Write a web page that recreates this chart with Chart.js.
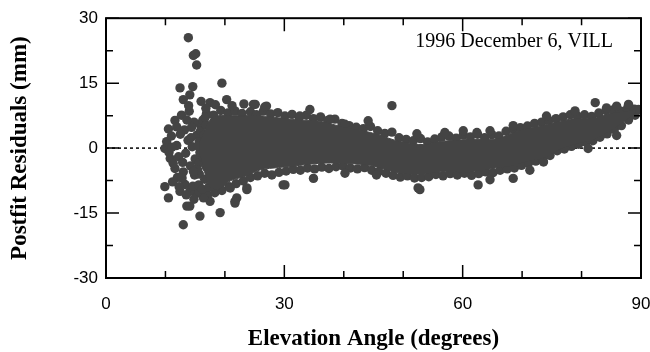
<!DOCTYPE html>
<html>
<head>
<meta charset="utf-8">
<title>Postfit residuals vs elevation</title>
<script src="https://cdn.jsdelivr.net/npm/chart.js@4.4.1/dist/chart.umd.min.js"></script>
<style>
    body { margin: 0; background: #fff; }
    #wrap { width: 650px; height: 352px; }
</style>
</head>
<body>
<div id="wrap"><canvas id="chart" width="650" height="352"></canvas></div>
<script>
const xTicks = [0, 30, 60, 90];
const xMinorTicks = [10, 20, 40, 50, 70, 80];
const yTicks = [-30, -15, 0, 15, 30];
const yMinorTicks = [-22.5, -7.5, 7.5, 22.5];
const noteText = "1996 December 6, VILL";

// dense core of the cloud (elevation, lowest and highest residual)
const coreElev = [15.8, 17.5, 19, 21, 23.5, 26, 29, 32.5, 36, 39.5, 44.5, 49.5, 53.5, 56, 61, 66, 68.5, 71, 73.6, 76.4, 78.6, 82, 84.8, 87.5, 89];
const coreLow = [-1.5, -9, -9.5, -7.5, -6.5, -5, -4.5, -4, -3.5, -3.5, -4, -5.8, -6, -5.5, -5.5, -4.5, -4, -3, -2.3, -0.2, 0.8, 2, 4, 6.5, 8];
const coreHigh = [1.5, 6.5, 7.5, 7.5, 7.5, 7.5, 7, 6.5, 6.2, 5, 3.6, 1.5, 0.8, 1.5, 2, 2.2, 3.6, 4.5, 5.3, 6.2, 6.8, 7, 8, 8.5, 8.8];

// single points along the top of the cloud
const upperEdge = [
    [15.8, 5.5], [16.9, 8.0], [18.1, 7.6], [19.3, 8.7], [20.5, 8.1], [21.7, 8.6], [22.9, 8.0], [24.3, 8.4],
    [25.3, 7.7], [26.5, 8.6], [27.7, 7.9], [28.9, 8.2], [30.1, 7.4], [31.3, 7.8], [32.5, 7.0], [33.7, 7.6],
    [34.9, 6.8], [36.1, 7.2], [37.3, 6.4], [38.5, 6.7], [39.7, 5.7], [40.9, 5.2], [42.1, 4.8], [43.3, 4.5],
    [44.5, 5.0], [45.7, 4.0], [46.9, 3.4], [48.1, 3.7], [49.3, 2.4], [50.5, 2.0], [51.7, 1.7], [52.9, 2.2],
    [54.1, 1.4], [55.3, 2.1], [56.5, 2.6], [57.7, 2.8], [58.9, 2.3], [60.1, 3.0], [61.3, 2.6], [62.5, 3.2],
    [63.7, 2.4], [64.9, 3.1], [66.1, 2.8], [67.3, 3.9], [68.5, 4.4], [69.7, 4.7], [70.9, 5.1], [72.1, 5.7],
    [73.3, 6.0], [74.5, 6.4], [75.7, 6.8], [76.9, 7.2], [78.1, 7.7], [79.3, 7.4], [80.5, 7.7], [81.7, 7.3],
    [82.9, 8.1], [84.1, 8.7], [85.3, 8.8], [86.5, 8.6], [87.7, 9.1], [88.9, 9.0]
];

// single points along the bottom of the cloud
const lowerEdge = [
    [15.9, -10.4], [17.1, -10.8], [18.3, -10.3], [19.5, -9.8], [20.7, -8.9], [21.9, -8.2], [23.1, -7.6], [24.3, -6.8],
    [25.5, -6.4], [26.7, -5.8], [27.9, -6.2], [29.1, -5.6], [30.3, -5.3], [31.5, -4.9], [32.7, -5.1], [33.9, -4.6],
    [35.1, -4.8], [36.3, -4.4], [37.5, -4.7], [38.7, -4.3], [39.9, -4.1], [41.1, -4.6], [42.3, -4.8], [43.5, -4.5],
    [44.7, -5.1], [45.9, -5.4], [47.1, -5.8], [48.3, -6.3], [49.5, -6.7], [50.7, -6.4], [51.9, -6.9], [53.1, -6.8],
    [54.3, -6.6], [55.5, -6.1], [56.7, -6.4], [57.9, -5.9], [59.1, -6.2], [60.3, -5.8], [61.5, -6.3], [62.7, -5.9],
    [63.9, -5.5], [65.1, -5.7], [66.3, -5.1], [67.5, -4.8], [68.7, -4.6], [69.9, -4.0], [71.1, -3.4], [72.3, -3.0],
    [73.5, -2.8], [74.7, -1.7], [75.9, -0.6], [77.1, -0.2], [78.3, 0.4], [79.5, 0.9], [80.7, 1.4], [81.9, 1.7],
    [83.1, 2.5], [84.3, 3.3], [85.5, 4.3], [86.7, 5.2], [87.9, 6.5], [89.0, 7.6]
];

// scattered points: the wide spread at low elevation and the outliers
const scattered = [
    [13.85, 25.5], [14.7, 21.4], [15.1, 21.8], [15.25, 19.2], [12.45, 13.9], [14.6, 14.2], [19.5, 15.0],
    [13.0, 11.2], [14.1, 12.3], [20.3, 11.2], [17.5, 10.5], [16.0, 10.8], [16.8, 9.2], [18.4, 10.0],
    [21.2, 9.8], [23.2, 10.2], [11.6, 6.4], [10.5, 4.4], [13.2, 4.2], [9.9, -0.1], [10.8, -2.4], [11.6, -4.7],
    [13.0, -5.5], [9.9, -8.9], [10.5, -11.5], [12.45, -10], [13.6, -13.4], [14.1, -13.4], [13.0, -17.7],
    [15.8, -15.7], [19.2, -14.9], [21.7, -12.7], [22.0, -11.5], [17.5, -12.3], [16.4, -11.5], [15.25, -10.4],
    [14.1, -10], [20.9, -9.2], [23.7, -9.2], [21.7, -12.3], [23.7, -9.6],
    [10.2, 1.5], [10.6, -1.0], [11.0, 2.8], [11.3, -3.5], [11.9, 0.6], [12.2, -2.0], [12.5, 3.2], [12.0, -6.8],
    [12.9, -3.3], [13.4, -1.2], [13.8, 1.8], [14.2, -4.1], [14.5, 0.3], [14.9, -6.2], [13.3, -8.4], [14.6, -8.8],
    [12.7, 7.6], [14.0, 8.5], [14.8, 6.0], [15.3, 3.0], [15.0, -2.5], [13.9, 9.8], [11.2, -7.8],
    [15.6, -8.5], [15.7, -6.0], [15.6, -3.5], [15.8, -1.0], [15.7, 1.5], [15.9, 4.0], [16.2, -9.5], [16.3, 6.5],
    [15.4, -5.0], [15.5, 0.5], [14.4, 4.8], [13.6, 6.5], [12.3, -8.9], [14.8, -11.8],
    [16.6, -7.2], [16.5, 3.0], [16.9, -4.4], [16.8, 5.4], [17.0, 0.8], [16.4, -2.2], [17.3, -9.0], [16.7, 7.1],
    [11.9, 4.9], [12.8, -6.9], [13.5, -10.8], [11.1, 0.2], [14.3, 2.4], [14.7, -5.4],
    [24.8, 10.1], [26.7, 9.5], [25.1, 10.1], [27.0, 9.7], [29.8, -8.5], [30.1, -8.5], [34.9, -7.0],
    [34.3, 8.9], [32.6, 7.4], [37.7, 6.7], [48.1, 9.8], [40.2, 5.5], [44.1, 6.3], [52.3, 3.3], [52.5, -9.2],
    [52.8, -9.6], [40.2, -5.8], [45.5, -6.2], [57.0, 3.6], [60.1, 4.0], [62.4, 3.6], [64.6, 4.0], [68.5, 5.2],
    [62.6, -8.5], [64.6, -7.3], [68.5, -7.0], [71.3, -5.1], [73.6, -3.2], [74.1, 7.4], [78.9, 8.6],
    [77.2, 0.2], [81.1, -0.1], [81.4, 2.1], [82.3, 10.5], [84.2, 9.3], [85.9, 9.7], [87.9, 10.1], [89.6, 8.9],
    [85.9, 2.9], [84.8, 5.2]
];

const dotColor = "#444444";
const tickFont = { family: "'Liberation Sans', Arial, sans-serif", size: 17 };
const titleFont = { family: "'Liberation Serif', 'Times New Roman', serif", size: 23, weight: "bold", lineHeight: 1 };

const toXY = arr => arr.map(p => ({ x: p[0], y: p[1] }));

const framePlugin = {
    id: "frame",
    beforeDatasetsDraw(chart) {
        const { ctx, chartArea: a, scales: { y } } = chart;
        const y0 = y.getPixelForValue(0);
        ctx.save();
        ctx.strokeStyle = "#000";
        ctx.lineWidth = 1.5;
        ctx.setLineDash([3, 3]);
        ctx.beginPath();
        ctx.moveTo(a.left, y0);
        ctx.lineTo(a.right, y0);
        ctx.stroke();
        ctx.restore();
    },
    afterDatasetsDraw(chart) {
        const { ctx, chartArea: a, scales: { x, y } } = chart;
        ctx.save();
        ctx.strokeStyle = "#000";
        ctx.lineWidth = 2;
        ctx.strokeRect(a.left, a.top, a.right - a.left, a.bottom - a.top);

        ctx.lineWidth = 1.5;
        ctx.beginPath();
        function xTick(v, len) {
            const px = x.getPixelForValue(v);
            ctx.moveTo(px, a.bottom); ctx.lineTo(px, a.bottom - len);
            ctx.moveTo(px, a.top); ctx.lineTo(px, a.top + len);
        }
        function yTick(v, len) {
            const py = y.getPixelForValue(v);
            ctx.moveTo(a.left, py); ctx.lineTo(a.left + len, py);
            ctx.moveTo(a.right, py); ctx.lineTo(a.right - len, py);
        }
        xTicks.forEach(v => xTick(v, 13));
        xMinorTicks.forEach(v => xTick(v, 7));
        yTicks.forEach(v => yTick(v, 13));
        yMinorTicks.forEach(v => yTick(v, 7));
        ctx.stroke();

        ctx.fillStyle = "#000";
        ctx.font = "20px 'Liberation Serif', 'Times New Roman', serif";
        ctx.textAlign = "right";
        ctx.textBaseline = "alphabetic";
        ctx.fillText(noteText, a.right - 28, a.top + 29);
        ctx.restore();
    }
};

new Chart(document.getElementById("chart"), {
    type: "scatter",
    data: {
        datasets: [
            {
                type: "line",
                data: coreElev.map((e, i) => ({ x: e, y: coreLow[i] })),
                borderColor: dotColor,
                borderWidth: 1,
                pointRadius: 0,
                tension: 0.3,
                fill: false
            },
            {
                type: "line",
                data: coreElev.map((e, i) => ({ x: e, y: coreHigh[i] })),
                borderColor: dotColor,
                backgroundColor: dotColor,
                borderWidth: 1,
                pointRadius: 0,
                tension: 0.3,
                fill: "-1"
            },
            {
                data: toXY(upperEdge.concat(lowerEdge, scattered)),
                backgroundColor: dotColor,
                borderWidth: 0,
                pointRadius: 4.7
            }
        ]
    },
    options: {
        responsive: false,
        devicePixelRatio: 1,
        animation: false,
        layout: { padding: { top: 14, right: 9, left: 0, bottom: 0 } },
        plugins: {
            legend: { display: false },
            tooltip: { enabled: false }
        },
        scales: {
            x: {
                type: "linear",
                min: 0,
                max: 90,
                afterBuildTicks: s => { s.ticks = xTicks.map(v => ({ value: v })); },
                afterFit: s => { s.height = 74; s.paddingLeft = 0; s.paddingRight = 0; },
                grid: { display: false, drawTicks: false },
                border: { display: false },
                ticks: { color: "#000", font: tickFont, padding: 16, maxRotation: 0 },
                title: {
                    display: true,
                    text: "Elevation Angle (degrees)",
                    color: "#000",
                    font: titleFont,
                    padding: { top: 0, bottom: 1 }
                }
            },
            y: {
                type: "linear",
                min: -30,
                max: 30,
                afterBuildTicks: s => { s.ticks = yTicks.map(v => ({ value: v })); },
                afterFit: s => { s.width = 106; },
                grid: { display: false, drawTicks: false },
                border: { display: false },
                ticks: { color: "#000", font: tickFont, padding: 8 },
                title: {
                    display: true,
                    text: "Postfit Residuals (mm)",
                    color: "#000",
                    font: titleFont,
                    padding: { top: 9, bottom: 0 }
                }
            }
        }
    },
    plugins: [framePlugin]
});
</script>
</body>
</html>
